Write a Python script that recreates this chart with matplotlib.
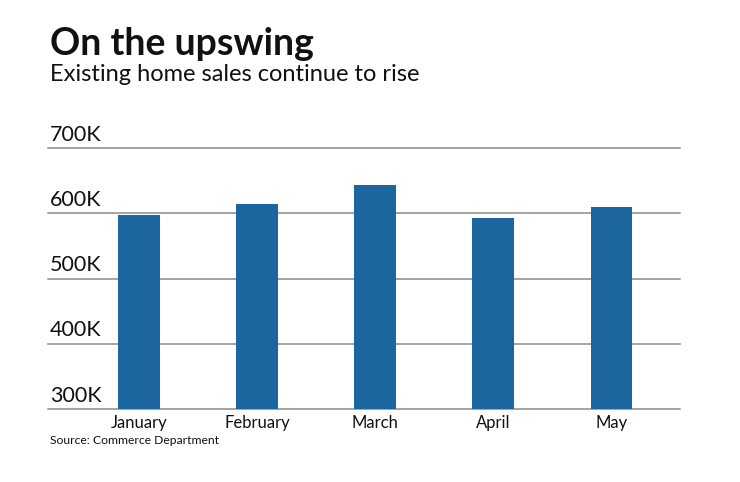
import matplotlib.pyplot as plt
import numpy as np

# --- DATA ---
months = ["January", "February", "March", "April", "May"]
sales_k = [598, 614, 644, 592, 609]
y_ticks = [300, 400, 500, 600, 700]
y_labels = ["300K", "400K", "500K", "600K", "700K"]

BAR_COLOR = "#1c66a0"
GRID_COLOR = "#8c8c8c"

plt.rcParams["font.family"] = ["Lato", "DejaVu Sans"]

fig = plt.figure(figsize=(7.4, 4.82), dpi=100)
ax = fig.add_axes([48 / 740, 73 / 482, 632 / 740, 261 / 482])

x = np.arange(len(months))
ax.bar(x, sales_k, width=0.355, color=BAR_COLOR, zorder=3)

ax.set_ylim(300, 700)
ax.set_xlim(-0.77, 4.58)

# gridlines with labels sitting above them
for val, lab in zip(y_ticks, y_labels):
    ax.axhline(val, color=GRID_COLOR, lw=1.1, zorder=2, clip_on=False)
    ax.text(0.003, val + 5, lab, transform=ax.get_yaxis_transform(),
            ha="left", va="bottom", fontsize=15.5, color="#111111")

ax.set_yticks([])
ax.set_xticks(x)
ax.set_xticklabels(months, fontsize=12, color="#111111")
ax.tick_params(axis="x", length=0, pad=4)
for s in ax.spines.values():
    s.set_visible(False)

fig.text(50 / 740, 1 - 55 / 482, "On the upswing", fontsize=27,
         fontweight="bold", ha="left", va="baseline", color="#111111")
fig.text(50 / 740, 1 - 81 / 482, "Existing home sales continue to rise",
         fontsize=17, ha="left", va="baseline", color="#111111",
         fontstretch="expanded")
fig.text(50 / 740, 1 - 444 / 482, "Source: Commerce Department",
         fontsize=8.7, ha="left", va="baseline", color="#111111")

fig.savefig("out.png", dpi=100)
